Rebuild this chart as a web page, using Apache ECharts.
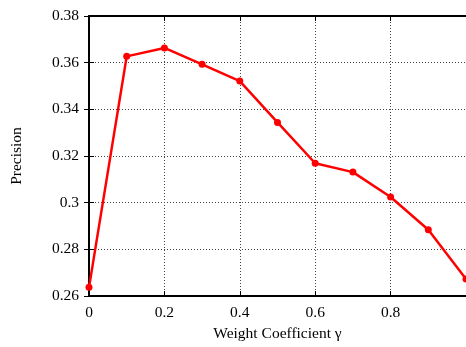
<!DOCTYPE html>
<html>
<head>
<meta charset="utf-8">
<script src="https://cdn.jsdelivr.net/npm/echarts@6/dist/echarts.min.js"></script>
<style>
  html, body { margin: 0; padding: 0; background: #fff; }
  #chart { width: 466px; height: 347px; }
</style>
</head>
<body>
<div id="chart"></div>
<script>
// Weight coefficient γ sweep and resulting precision
const gammaValues = [0, 0.1, 0.2, 0.3, 0.4, 0.5, 0.6, 0.7, 0.8, 0.9, 1.0];
const precisionValues = [0.2637, 0.3627, 0.3663, 0.3593, 0.3521, 0.3344, 0.3169, 0.3131, 0.3024, 0.2884, 0.2673];

const xTitle = 'Weight Coefficient γ';
const yTitle = 'Precision';

const FONT = '"Liberation Serif", "Times New Roman", serif';
const gridLine = { show: true, lineStyle: { color: '#444', type: [1, 2], width: 1 } };
const frameLine = { show: true, onZero: false, lineStyle: { color: '#000', width: 2 } };
const innerTick = { show: true, inside: true, length: 5, lineStyle: { color: '#000', width: 1 } };

const chart = echarts.init(document.getElementById('chart'), null, { renderer: 'canvas' });
chart.setOption({
  animation: false,
  backgroundColor: '#fff',
  grid: { left: 89, top: 16, right: 0, bottom: 46.5, containLabel: false },
  xAxis: [
    {
      type: 'value', position: 'bottom', min: 0, max: 1, interval: 0.2,
      name: xTitle, nameLocation: 'middle', nameGap: 30,
      nameTextStyle: { fontFamily: FONT, fontSize: 15.5, color: '#000' },
      axisLine: frameLine, axisTick: innerTick,
      axisLabel: { fontFamily: FONT, fontSize: 15.5, color: '#000', margin: 9, showMaxLabel: false },
      splitLine: gridLine
    },
    {
      type: 'value', position: 'top', min: 0, max: 1, interval: 0.2,
      axisLine: frameLine, axisTick: innerTick,
      axisLabel: { show: false }, splitLine: { show: false }
    }
  ],
  yAxis: [
    {
      type: 'value', position: 'left', min: 0.26, max: 0.38, interval: 0.02,
      name: yTitle, nameLocation: 'middle', nameGap: 64, nameRotate: 90,
      nameTextStyle: { fontFamily: FONT, fontSize: 15.5, color: '#000' },
      axisLine: frameLine, axisTick: innerTick,
      axisLabel: { fontFamily: FONT, fontSize: 15.5, color: '#000', margin: 10 },
      splitLine: gridLine
    },
    {
      type: 'value', position: 'right', min: 0.26, max: 0.38, interval: 0.02,
      axisLine: { show: false }, axisTick: innerTick,
      axisLabel: { show: false }, splitLine: { show: false }
    }
  ],
  series: [{
    type: 'line',
    xAxisIndex: 0, yAxisIndex: 0,
    data: gammaValues.map((g, i) => [g, precisionValues[i]]),
    symbol: 'circle', symbolSize: 7,
    lineStyle: { color: '#ff0000', width: 2.5 },
    itemStyle: { color: '#ff0000' },
    clip: false
  }]
});
</script>
</body>
</html>
